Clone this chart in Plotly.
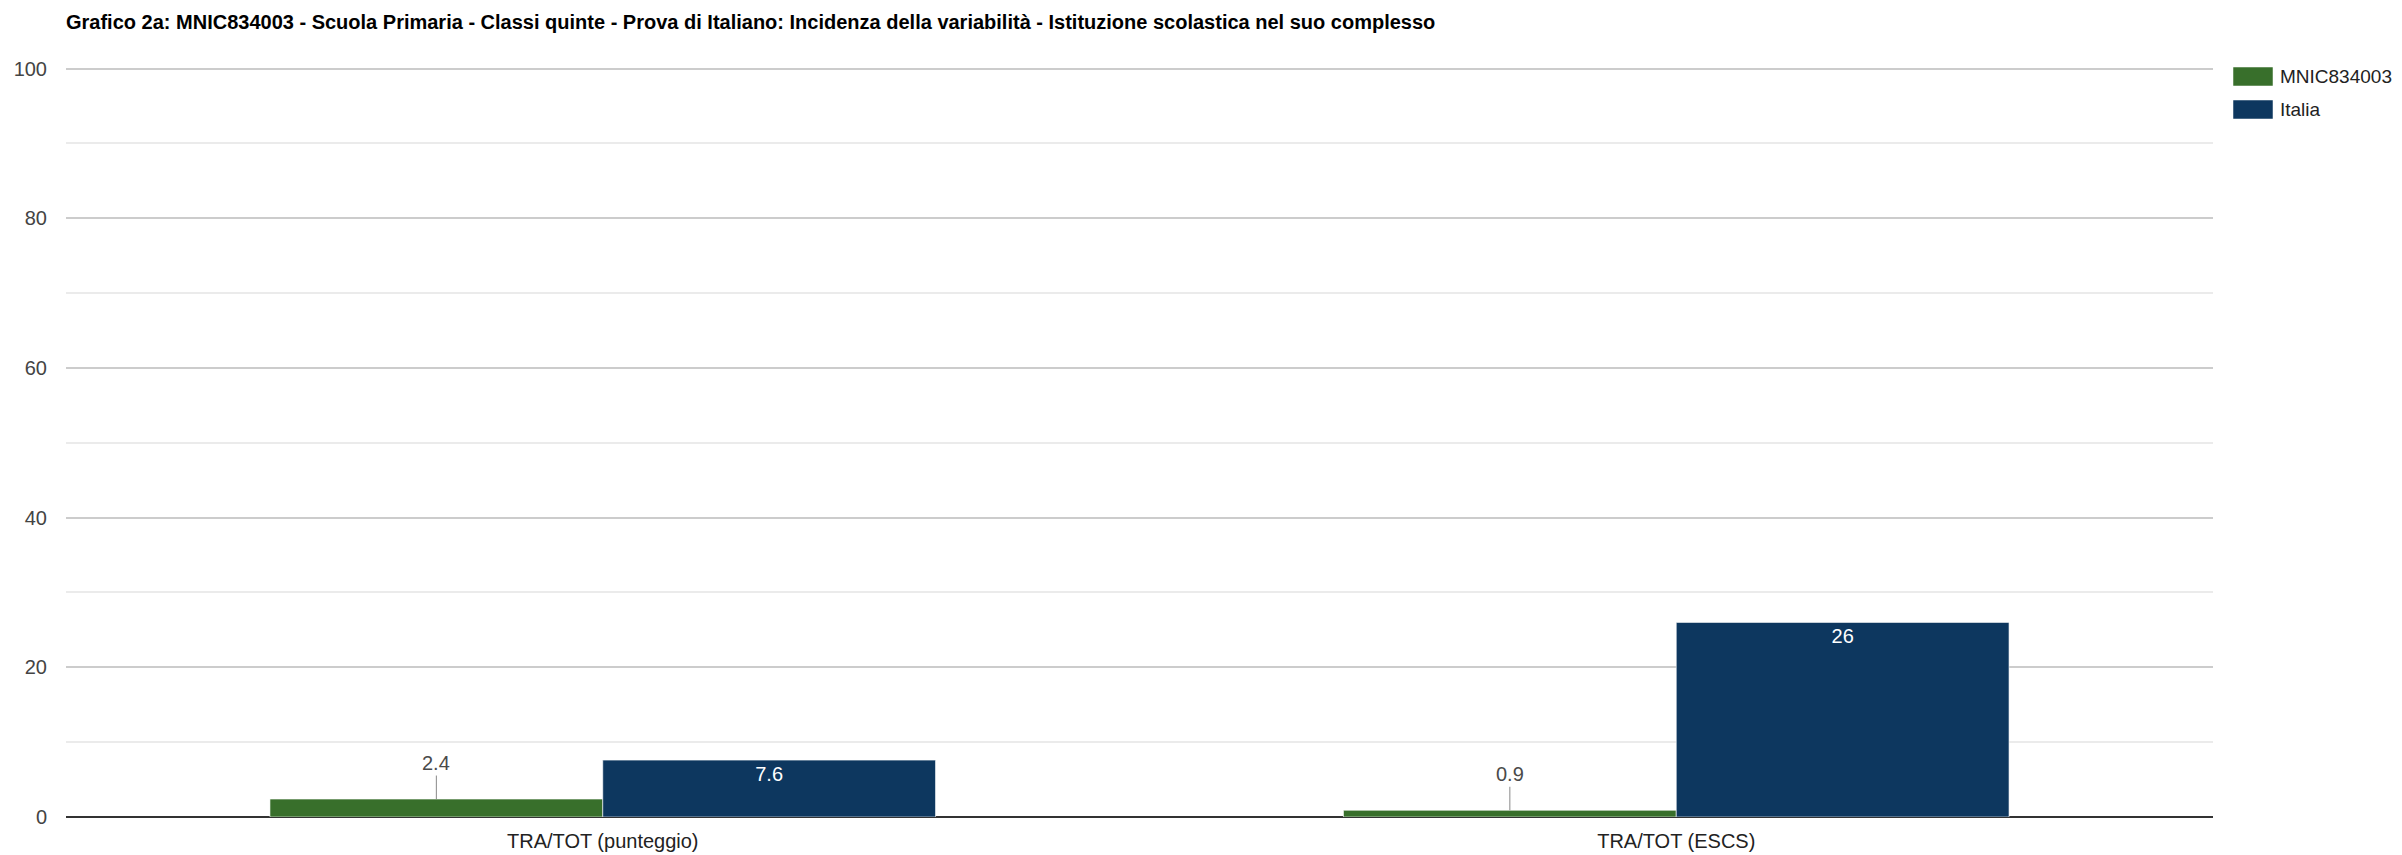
import plotly.graph_objects as go

# ---- data ----
categories = ["TRA/TOT (punteggio)", "TRA/TOT (ESCS)"]
series_names = ["MNIC834003", "Italia"]
school_values = [2.4, 0.9]
italy_values = [7.6, 26]
school_labels = ["2.4", "0.9"]
italy_labels = ["7.6", "26"]
y_ticks = [0, 20, 40, 60, 80, 100]
title_text = ("Grafico 2a: MNIC834003 - Scuola Primaria - Classi quinte - Prova di Italiano: "
              "Incidenza della variabilità - Istituzione scolastica nel suo complesso")

# ---- style ----
OFF = 8  # default page body margin
W, H = 2402 - OFF, 855 - OFF
# desired page-pixel positions of the plot area
P_LEFT, P_RIGHT, P_TOP, P_BOTTOM = 66, 2213, 67, 817
ML, MT = P_LEFT - OFF, P_TOP - OFF
MR = W - (P_RIGHT - OFF)
MB = H - (P_BOTTOM - OFF)
FONT = "Liberation Sans, Arial, sans-serif"
FS = 20
GREEN = "#386f2b"
BLUE = "#0d375f"

plot_w = W - ML - MR
plot_h = H - MT - MB


def px2x(px):
    return (px - P_LEFT) / plot_w


def px2y(py):
    return (P_BOTTOM - py) / plot_h


fig = go.Figure()
fig.add_trace(go.Bar(
    name=series_names[0], x=categories, y=school_values,
    marker=dict(color=GREEN, line=dict(color="rgba(255,255,255,0.6)", width=1)),
    showlegend=False, hoverinfo="x+y",
))
fig.add_trace(go.Bar(
    name=series_names[1], x=categories, y=italy_values,
    text=italy_labels, textposition="inside", insidetextanchor="end",
    textfont=dict(family=FONT, size=FS, color="white"),
    marker=dict(color=BLUE, line=dict(color="rgba(255,255,255,0.6)", width=1)),
    showlegend=False, hoverinfo="x+y", cliponaxis=False,
))

bargap = 0.38
cat_px = plot_w / len(categories)
bar_px = cat_px * (1 - bargap) / 2

annotations = []
for cat, val, lab in zip(categories, school_values, school_labels):
    annotations.append(dict(
        x=cat, y=val, xref="x", yref="y", text=lab,
        showarrow=True, arrowhead=0, arrowwidth=1, arrowcolor="#888888",
        ax=0, ay=-36, standoff=0, xshift=-bar_px / 2,
        font=dict(family=FONT, size=FS, color="#4a4a4a"),
    ))

# custom legend
shapes = []
legend_rows = [(series_names[0], GREEN, 67, 86), (series_names[1], BLUE, 100, 119)]
for name, col, top, bot in legend_rows:
    shapes.append(dict(type="rect", xref="paper", yref="paper",
                       x0=px2x(2233), x1=px2x(2273), y0=px2y(bot), y1=px2y(top),
                       fillcolor=col, line=dict(color="rgba(255,255,255,0.5)", width=1)))
    annotations.append(dict(x=px2x(2279), y=px2y((top + bot) / 2), xref="paper", yref="paper",
                            xanchor="left", yanchor="middle", showarrow=False, text=name,
                            borderpad=0,
                            font=dict(family=FONT, size=19, color="#222222")))

fig.update_layout(
    width=W, height=H,
    margin=dict(l=ML, r=MR, t=MT, b=MB, autoexpand=False),
    paper_bgcolor="white", plot_bgcolor="white",
    barmode="group", bargap=bargap, bargroupgap=0,
    title=dict(text="<b>" + title_text + "</b>", x=(P_LEFT - OFF) / W, xanchor="left",
               xref="container", y=1 - (22 - OFF) / H, yanchor="middle", yref="container",
               font=dict(family=FONT, size=FS, color="#000000")),
    font=dict(family=FONT, size=FS, color="#222222"),
    annotations=annotations, shapes=shapes,
    xaxis=dict(type="category", showgrid=False, showline=False, zeroline=False, ticks="",
               tickfont=dict(family=FONT, size=FS, color="#222222"), ticklabelstandoff=10,
               fixedrange=True),
    yaxis=dict(range=[0, 100.2], tickvals=y_ticks, ticktext=[str(v) for v in y_ticks],
               showgrid=True, gridcolor="#cccccc", gridwidth=1.5,
               minor=dict(dtick=10, showgrid=True, gridcolor="#ebebeb", gridwidth=1.5),
               zeroline=True, zerolinecolor="#333333", zerolinewidth=2,
               showline=False, ticks="", ticklabelstandoff=18,
               tickfont=dict(family=FONT, size=FS, color="#444444"), fixedrange=True),
)

fig.write_html("out.html")
